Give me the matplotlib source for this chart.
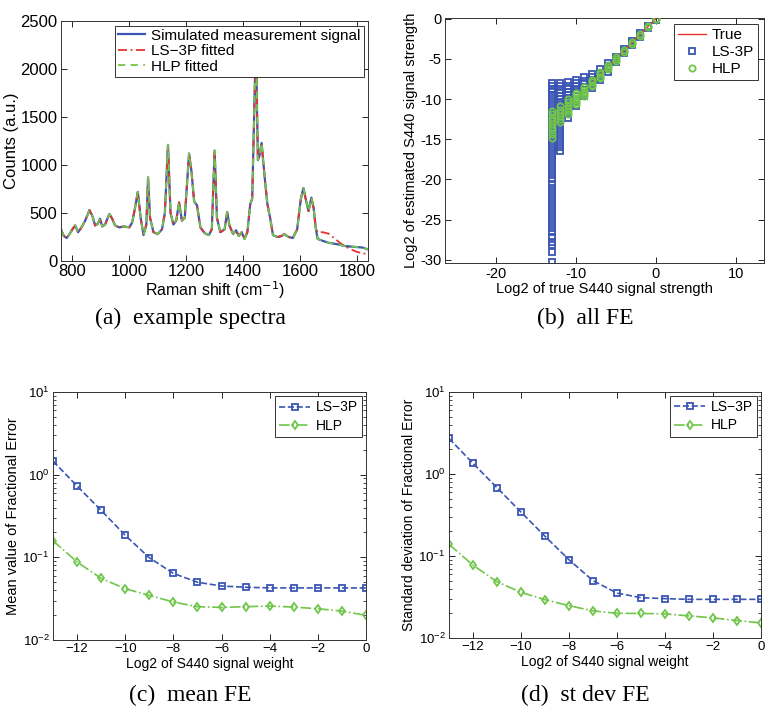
import numpy as np
import matplotlib
matplotlib.use("Agg")
import matplotlib.pyplot as plt

plt.rcParams['font.family'] = ['Liberation Sans', 'DejaVu Sans']

# ---- (a) example spectra
raman_x = [760, 770, 780, 790, 800, 810, 820, 830, 845, 860, 870, 880, 890, 897, 905, 915,
           930, 940, 950, 965, 980, 1000, 1010, 1020, 1030, 1040, 1050, 1060, 1066, 1073,
           1085, 1100, 1115, 1125, 1136, 1145, 1155, 1165, 1175, 1185, 1195, 1210, 1218,
           1228, 1238, 1250, 1265, 1280, 1290, 1300, 1308, 1320, 1335, 1344, 1352, 1365,
           1375, 1385, 1395, 1405, 1415, 1425, 1432, 1445, 1452, 1458, 1465, 1475, 1485,
           1495, 1505, 1520, 1535, 1545, 1560, 1575, 1590, 1603, 1612, 1622, 1630, 1640,
           1648, 1655, 1662, 1680, 1700, 1720, 1740, 1760, 1780, 1800, 1820, 1840]
signal_counts = [330, 260, 240, 280, 330, 370, 300, 340, 420, 530, 470, 370, 390, 440, 360, 380,
                 490, 440, 370, 350, 360, 350, 400, 550, 720, 450, 270, 380, 870, 450,
                 300, 280, 330, 500, 1210, 500, 380, 420, 610, 420, 450, 1120, 950,
                 620, 580, 350, 290, 270, 330, 1150, 450, 300, 330, 510, 370, 280,
                 320, 260, 300, 230, 300, 590, 650, 2300, 1050, 1100, 1230, 900, 600,
                 450, 270, 250, 260, 280, 250, 240, 330, 650, 760, 620, 520, 660,
                 550, 350, 230, 210, 190, 180, 170, 155, 150, 145, 140, 120]
# LS-3P fit departs from the signal above ~1660 cm-1
ls3p_tail_x = [1662, 1680, 1700, 1720, 1740, 1760, 1780, 1800, 1820, 1840]
ls3p_tail_y = [300, 300, 285, 240, 190, 150, 120, 95, 80, 70]

# ---- (b) all FE
true_x = [-13, 0]
col_x = [-13, -12, -11, -10, -9, -8, -7, -6, -5, -4, -3, -2, -1, 0]
ls3p_cols = [
    [-8.0, -8.3, -8.7, -9.0, -9.5, -10.0, -10.5, -11.0, -11.5, -12.0, -12.5, -13.0, -13.5,
     -14.0, -14.5, -15.0, -15.5, -16.0, -16.5, -17.0, -17.5, -18.0, -18.5, -19.0, -19.5,
     -20.0, -20.5, -21.0, -21.5, -22.0, -22.5, -23.0, -23.5, -24.0, -24.5, -25.0, -25.5,
     -26.0, -26.5, -27.2, -27.8, -28.2, -29.0, -30.3],
    [-8.0, -8.3, -8.8, -9.2, -9.6, -10.0, -10.5, -11.0, -11.5, -12.0, -12.5, -13.0, -13.5,
     -14.0, -14.5, -15.0, -15.5, -16.0, -16.5],
    [-7.9, -8.3, -8.7, -9.1, -9.5, -9.9, -10.3, -10.7, -11.1, -11.5, -11.9, -12.3],
    [-7.6, -8.0, -8.4, -8.8, -9.2, -9.6, -10.0, -10.4, -10.8],
    [-7.3, -7.7, -8.1, -8.5, -8.9, -9.3, -9.6],
    [-6.9, -7.3, -7.7, -8.1, -8.4, -8.6],
    [-6.3, -6.7, -7.1, -7.4, -7.6],
    [-5.5, -5.9, -6.3, -6.6],
    [-4.7, -5.0, -5.2, -5.4],
    [-3.8, -4.0, -4.3],
    [-2.8, -3.0, -3.2],
    [-1.8, -2.0, -2.2],
    [-0.9, -1.0, -1.2],
    [0.0, -0.1],
]
hlp_cols = [
    [-11.5, -11.9, -12.3, -12.7, -13.1, -13.5, -13.9, -14.3, -14.8],
    [-10.9, -11.3, -11.7, -12.1, -12.5, -12.8],
    [-10.0, -10.4, -10.8, -11.2, -11.5, -11.8],
    [-9.2, -9.5, -9.8, -10.1, -10.4, -10.6],
    [-8.5, -8.8, -9.1, -9.4, -9.6],
    [-7.6, -7.9, -8.2, -8.4],
    [-6.6, -6.9, -7.2, -7.4],
    [-5.7, -6.0, -6.3],
    [-4.8, -5.0, -5.2],
    [-3.9, -4.1],
    [-2.9, -3.1],
    [-1.9, -2.1],
    [-0.95, -1.05],
    [0.0, -0.05],
]
b_xticks = [-20, -10, 0, 10]
b_yticks = [0, -5, -10, -15, -20, -25, -30]

# ---- (c) mean FE and (d) st dev FE
weight = [-13, -12, -11, -10, -9, -8, -7, -6, -5, -4, -3, -2, -1, 0]
mean_ls3p = [1.46, 0.73, 0.37, 0.185, 0.099, 0.064, 0.050, 0.045, 0.0435, 0.0427, 0.0427, 0.0427, 0.0427, 0.0427]
mean_hlp = [0.159, 0.088, 0.0557, 0.0418, 0.0347, 0.0288, 0.0253, 0.0248, 0.0253, 0.0258, 0.025, 0.0239, 0.0224, 0.0199]
std_ls3p = [2.71, 1.35, 0.68, 0.343, 0.174, 0.090, 0.050, 0.0353, 0.031, 0.0302, 0.0296, 0.0296, 0.0296, 0.0296]
std_hlp = [0.139, 0.0773, 0.0485, 0.036, 0.0293, 0.0248, 0.0214, 0.020, 0.0199, 0.0197, 0.0186, 0.0176, 0.0163, 0.0153]

BLUE = '#3a55b4'
RED = '#e8332d'
GREEN = '#6fc64a'

fig = plt.figure(figsize=(7.76, 7.24), dpi=100)

def style_axes(ax, size):
    ax.tick_params(direction='in', top=True, right=True, labelsize=size, length=4, width=0.6, pad=2.5)
    ax.tick_params(which='minor', direction='in', top=True, right=True, length=2, width=0.5)
    for s in ax.spines.values():
        s.set_linewidth(0.7)
        s.set_color('#333333')

# (a)
ax1 = fig.add_axes([0.0786, 0.6395, 0.396, 0.3315])
ax1.plot(raman_x, signal_counts, color=BLUE, lw=1.6, label='Simulated measurement signal')
ls3p_x = [x for x in raman_x if x < 1662] + ls3p_tail_x
ls3p_y = [y for x, y in zip(raman_x, signal_counts) if x < 1662] + ls3p_tail_y
ax1.plot(ls3p_x, ls3p_y, color=RED, lw=1.3, ls=(0, (5, 2, 1, 2)), label='LS\u22123P fitted')
ax1.plot(raman_x, signal_counts, color=GREEN, lw=1.3, ls=(0, (4, 3)), label='HLP fitted')
ax1.set_xlim(760, 1840)
ax1.set_ylim(0, 2500)
ax1.set_xticks([800, 1000, 1200, 1400, 1600, 1800])
ax1.set_yticks([0, 500, 1000, 1500, 2000, 2500])
ax1.set_xlabel('Raman shift (cm$^{-1}$)', fontsize=11.5, labelpad=0)
style_axes(ax1, 12)
ax1.set_ylabel('Counts (a.u.)', fontsize=12, labelpad=1)
leg = ax1.legend(loc='upper right', fontsize=11, fancybox=False, framealpha=1,
                 edgecolor='#333333', borderpad=0.2, labelspacing=0.1,
                 handlelength=1.8, handletextpad=0.4, borderaxespad=0.3)
leg.get_frame().set_linewidth(0.7)

# (b)
ax2 = fig.add_axes([0.5735, 0.6367, 0.411, 0.3384])
ax2.plot(true_x, true_x, color=RED, lw=1.0, label='True', zorder=3)
for x, ys in zip(col_x, ls3p_cols):
    ax2.plot([x] * len(ys), ys, ls='none', marker='s', ms=4.5, mfc='none', mec=BLUE,
             mew=1.3, label='LS-3P' if x == -13 else None, zorder=2)
for x, ys in zip(col_x, hlp_cols):
    ax2.plot([x] * len(ys), ys, ls='none', marker='o', ms=4.5, mfc='none', mec=GREEN,
             mew=1.3, label='HLP' if x == -13 else None, zorder=4)
ax2.set_xlim(-26.3, 13.5)
ax2.set_ylim(-30.4, 0.1)
ax2.set_xticks(b_xticks)
ax2.set_xticklabels([str(v) for v in b_xticks])
ax2.set_yticks(b_yticks)
ax2.set_yticklabels([str(v) for v in b_yticks])
ax2.set_xlabel('Log2 of true S440 signal strength', fontsize=10.5, labelpad=1)
ax2.set_ylabel('Log2 of estimated S440 signal strength', fontsize=10.5, labelpad=2)
style_axes(ax2, 10.5)
leg = ax2.legend(loc='upper right', fontsize=11, fancybox=False, framealpha=1,
                 edgecolor='#333333', borderpad=0.25, labelspacing=0.2,
                 handlelength=1.8, handletextpad=0.4, borderaxespad=0.4)
leg.get_frame().set_linewidth(0.7)

# (c) and (d)
def fe_panel(rect, ls_vals, hlp_vals, ylabel, ysize):
    ax = fig.add_axes(rect)
    ax.semilogy(weight, ls_vals, color=BLUE, ls='--', lw=1.2, marker='s', ms=4.5,
                mfc='none', mec=BLUE, mew=1.3, label='LS\u22123P')
    ax.semilogy(weight, hlp_vals, color=GREEN, ls='-.', lw=1.2, marker='d', ms=4.5,
                mfc='none', mec=GREEN, mew=1.3, label='HLP')
    ax.set_xlim(-13, 0)
    ax.set_ylim(1e-2, 1e1)
    ax.set_xticks([-12, -10, -8, -6, -4, -2, 0])
    ax.set_xticklabels(['\u221212', '\u221210', '\u22128', '\u22126', '\u22124', '\u22122', '0'])
    ax.set_xlabel('Log2 of S440 signal weight', fontsize=10, labelpad=1)
    ax.set_ylabel(ylabel, fontsize=ysize, labelpad=2)
    style_axes(ax, 9.5)
    leg = ax.legend(loc='upper right', fontsize=10, fancybox=False, framealpha=1,
                    edgecolor='#333333', borderpad=0.3, labelspacing=0.3,
                    handlelength=2.2, handletextpad=0.4, borderaxespad=0.3)
    leg.get_frame().set_linewidth(0.7)
    return ax

ax3 = fe_panel([0.0683, 0.116, 0.4033, 0.3425], mean_ls3p, mean_hlp,
               'Mean value of Fractional Error', 10.5)
ax4 = fe_panel([0.5786, 0.1188, 0.402, 0.3398], std_ls3p, std_hlp,
               'Standard deviation of Fractional Error', 10)

# captions
cap = dict(fontsize=17, family='Liberation Serif', ha='center', va='center')
fig.text(0.245, 0.56, '(a)  example spectra', **cap)
fig.text(0.754, 0.56, '(b)  all FE', **cap)
fig.text(0.245, 0.04, '(c)  mean FE', **cap)
fig.text(0.754, 0.04, '(d)  st dev FE', **cap)

fig.savefig('out.png', dpi=100)
